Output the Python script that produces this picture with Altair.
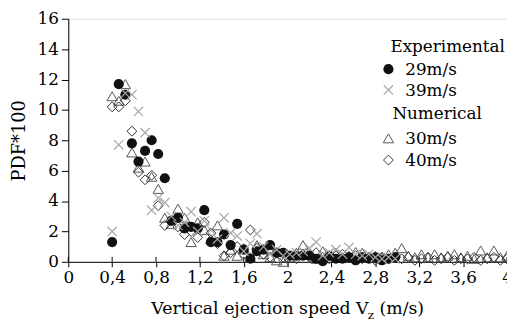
import altair as alt
import pandas as pd

# ---- data ----
exp29_x = [0.40, 0.46, 0.52, 0.58, 0.64, 0.70, 0.76, 0.82, 0.88, 0.94, 1.00, 1.06, 1.12, 1.18, 1.24,
           1.30, 1.36, 1.42, 1.48, 1.54, 1.60, 1.66, 1.72, 1.78, 1.84, 1.90, 1.96, 2.02, 2.08, 2.14,
           2.20, 2.26, 2.32, 2.38, 2.44, 2.50, 2.56, 2.62, 2.68, 2.74, 2.80, 2.86, 2.92, 2.98]
exp29_y = [1.3, 11.7, 11.0, 7.8, 6.6, 7.3, 8.0, 7.1, 5.5, 2.7, 2.9, 2.2, 2.3, 2.2, 3.4,
           1.3, 1.3, 1.8, 1.1, 2.5, 0.8, 0.2, 0.7, 0.8, 1.1, 0.6, 0.6, 0.4, 0.4, 0.4,
           0.4, 0.2, 0.05, 0.4, 0.2, 0.2, 0.3, 0.1, 0.3, 0.2, 0.3, 0.1, 0.2, 0.3]

exp39_x = [0.40, 0.46, 0.52, 0.58, 0.64, 0.70, 0.76, 0.82, 0.88, 0.94, 1.00, 1.06, 1.12, 1.18, 1.24,
           1.30, 1.36, 1.42, 1.48, 1.54, 1.60, 1.66, 1.72, 1.78, 1.84, 1.90, 1.96, 2.02, 2.08, 2.14,
           2.20, 2.26, 2.32, 2.38, 2.44, 2.50, 2.56, 2.62, 2.68, 2.74, 2.80, 2.86, 2.92, 2.98]
exp39_y = [2.0, 7.7, 11.1, 11.0, 9.9, 8.5, 3.4, 4.2, 3.9, 3.0, 2.4, 2.6, 3.3, 2.0, 2.7,
           2.1, 1.5, 2.9, 1.9, 1.7, 0.7, 1.2, 1.85, 1.0, 0.5, 0.8, 0.4, 0.5, 0.6, 0.7,
           0.9, 1.3, 0.4, 0.6, 0.8, 0.5, 0.95, 0.5, 0.4, 0.5, 0.3, 0.2, 0.3, 0.2]

num30_x = [0.40, 0.46, 0.52, 0.58, 0.64, 0.70, 0.76, 0.82, 0.88, 0.94, 1.00, 1.06, 1.12, 1.18, 1.24,
           1.30, 1.36, 1.42, 1.48, 1.54, 1.60, 1.66, 1.72, 1.78, 1.84, 1.90, 1.96, 2.02, 2.08, 2.14,
           2.20, 2.26, 2.32, 2.38, 2.44, 2.50, 2.56, 2.62, 2.68, 2.74, 2.80, 2.86, 2.92, 2.98, 3.04,
           3.10, 3.16, 3.22, 3.28, 3.34, 3.40, 3.46, 3.52, 3.58, 3.64, 3.70, 3.76, 3.82, 3.88, 3.94, 4.00]
num30_y = [10.9, 10.6, 11.7, 7.2, 6.2, 6.6, 5.6, 4.8, 2.9, 2.5, 3.5, 2.9, 1.3, 2.6, 2.1,
           1.5, 2.4, 0.4, 0.8, 0.4, 0.9, 0.3, 1.1, 0.5, 0.3, 0.1, 0.0, 0.3, 0.6, 1.1,
           0.5, 0.2, 0.7, 0.4, 0.6, 0.3, 0.4, 0.65, 0.6, 0.3, 0.4, 0.3, 0.5, 0.6, 0.9,
           0.4, 0.3, 0.5, 0.3, 0.5, 0.3, 0.4, 0.5, 0.3, 0.4, 0.2, 0.75, 0.3, 0.75, 0.3, 0.4]

num40_x = [0.40, 0.46, 0.52, 0.58, 0.64, 0.70, 0.76, 0.82, 0.88, 0.94, 1.00, 1.06, 1.12, 1.18, 1.24,
           1.30, 1.36, 1.42, 1.48, 1.54, 1.60, 1.66, 1.72, 1.78, 1.84, 1.90, 1.96, 2.02, 2.08, 2.14,
           2.20, 2.26, 2.32, 2.38, 2.44, 2.50, 2.56, 2.62, 2.68, 2.74, 2.80, 2.86, 2.92, 2.98, 3.04,
           3.10, 3.16, 3.22, 3.28, 3.34, 3.40, 3.46, 3.52, 3.58, 3.64, 3.70, 3.76, 3.82, 3.88, 3.94, 4.00]
num40_y = [10.2, 10.2, 10.6, 8.6, 5.9, 5.4, 5.7, 3.7, 2.4, 2.7, 2.3, 1.8, 2.0, 1.6, 2.6,
           1.9, 1.2, 0.4, 0.6, 1.0, 0.5, 2.1, 0.9, 0.5, 0.3, 0.6, 0.3, 0.4, 0.2, 0.5,
           0.3, 0.6, 0.3, 0.2, 0.4, 0.5, 0.3, 0.4, 0.2, 0.3, 0.1, 0.3, 0.2, 0.3, 0.2,
           0.3, 0.1, 0.2, 0.3, 0.1, 0.2, 0.3, 0.1, 0.2, 0.2, 0.3, 0.1, 0.2, 0.3, 0.1, 0.2]

x_ticks = [0, 0.4, 0.8, 1.2, 1.6, 2.0, 2.4, 2.8, 3.2, 3.6, 4.0]
y_ticks = [0, 2, 4, 6, 8, 10, 12, 14, 16]

legend_groups = ["Experimental", "Numerical"]
legend_labels = ["29m/s", "39m/s", "30m/s", "40m/s"]
x_title = ["Vertical ejection speed V", "z", "(m/s)"]
y_title = "PDF*100"

FONT = "DejaVu Serif"
W, H = 444, 246

xs = alt.Scale(domain=[0, 4], nice=False, zero=False)
ys = alt.Scale(domain=[0, 16], nice=False)

x_axis = alt.Axis(values=x_ticks, labelExpr="replace(format(datum.value, '~g'), '.', ',')",
                  title=None, tickSize=5, labelPadding=3, grid=False, labelFontSize=17,
                  labelFont=FONT, labelColor="black", domainColor="black", tickColor="black",
                  labelFlush=False)
y_axis = alt.Axis(values=y_ticks, title=y_title, tickSize=7, labelPadding=3, grid=False,
                  labelFontSize=17, labelFont=FONT, labelColor="black", domainColor="black",
                  tickColor="black", titleFont=FONT, titleFontSize=18, titleFontWeight="normal",
                  titleColor="black", titlePadding=9, labelFlush=False)

X = alt.X("v:Q", scale=xs, axis=x_axis)
Y = alt.Y("p:Q", scale=ys, axis=y_axis)

def frame(a, b):
    return pd.DataFrame({"v": a, "p": b})

XSHAPE = "M-1,-1L1,1M-1,1L1,-1"

tri = alt.Chart(frame(num30_x, num30_y)).mark_point(
    shape="triangle-up", size=110, filled=False, stroke="#555555", strokeWidth=1, opacity=1
).encode(x=X, y=Y)
dia = alt.Chart(frame(num40_x, num40_y)).mark_point(
    shape="diamond", size=100, filled=False, stroke="#333333", strokeWidth=1, opacity=1
).encode(x=X, y=Y)
circ = alt.Chart(frame(exp29_x, exp29_y)).mark_point(
    shape="circle", size=105, filled=True, fill="#111111", opacity=1
).encode(x=X, y=Y)
crs = alt.Chart(frame(exp39_x, exp39_y)).mark_point(
    shape=XSHAPE, size=90, filled=False, stroke="#a8a8a8", strokeWidth=1.2, opacity=1
).encode(x=X, y=Y)

inner_ticks = alt.Chart(pd.DataFrame({"v": x_ticks})).mark_rule(color="black").encode(
    x=alt.X("v:Q", scale=xs), y=alt.value(H), y2=alt.value(H - 5)
)

one = pd.DataFrame({"a": [0]})

def txt(t, x, y, size=17, align="left"):
    return alt.Chart(one).mark_text(text=t, font=FONT, fontSize=size, align=align,
                                    baseline="alphabetic", color="black").encode(
        x=alt.value(x), y=alt.value(y))

def sym(shape, x, y, **kw):
    return alt.Chart(one).mark_point(shape=shape, opacity=1, **kw).encode(
        x=alt.value(x), y=alt.value(y))

legend = [
    txt(legend_groups[0], 326, 34),
    sym("circle", 324, 51, size=105, filled=True, fill="#111111"),
    txt(legend_labels[0], 341, 57),
    sym(XSHAPE, 324, 72, size=90, filled=False, stroke="#a8a8a8", strokeWidth=1.2),
    txt(legend_labels[1], 341, 78),
    txt(legend_groups[1], 328, 101),
    sym("triangle-up", 324, 121, size=110, filled=False, stroke="#555555", strokeWidth=1),
    txt(legend_labels[2], 341, 127),
    sym("diamond", 324, 143, size=100, filled=False, stroke="#333333", strokeWidth=1),
    txt(legend_labels[3], 341, 149),
]

xtitle = [
    txt(x_title[0], 84, 299, size=17.5),
    txt(x_title[1], 303, 304, size=12),
    txt(x_title[2], 315, 299, size=17.5),
]

chart = alt.layer(inner_ticks, tri, dia, circ, crs, *legend, *xtitle).properties(
    width=W, height=H,
    autosize=alt.AutoSizeParams(type="none"),
    padding={"left": 61, "top": 9, "right": 0, "bottom": 58},
).configure_view(stroke="black", strokeWidth=1).configure(background="white")

chart.save("out.html", embed_options={"renderer": "svg", "actions": False})
